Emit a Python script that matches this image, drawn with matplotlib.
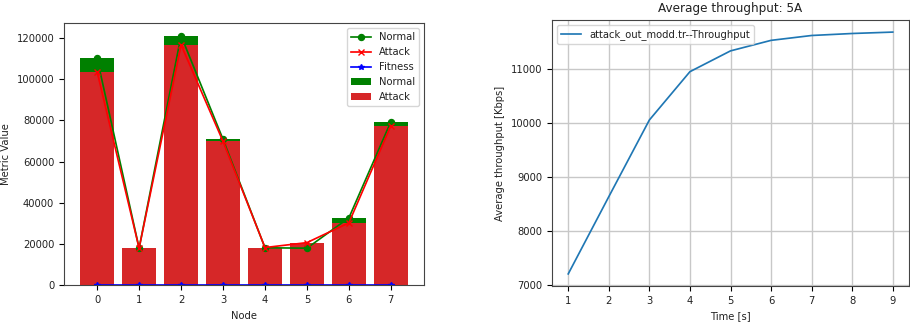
import matplotlib
matplotlib.use("Agg")
import matplotlib.pyplot as plt
import numpy as np

# left panel: per-node metric
nodes = [0, 1, 2, 3, 4, 5, 6, 7]
normal_vals = [110000, 18000, 121000, 70800, 18200, 18000, 32700, 79300]
attack_vals = [103500, 18000, 116600, 69800, 18300, 20700, 30300, 77400]
fitness_vals = [0, 0, 0, 0, 0, 0, 0, 0]

# right panel: average throughput
time_s = [1, 2, 3, 4, 5, 6, 7, 8, 9]
throughput = [7210, 8640, 10060, 10955, 11340, 11535, 11625, 11662, 11688]

s = 0.72
plt.rcParams['font.size'] = 10 * s
plt.rcParams['lines.linewidth'] = 1.7 * s
plt.rcParams['lines.markersize'] = 6 * s
plt.rcParams['axes.edgecolor'] = '#444444'
plt.rcParams['text.color'] = '#222222'
plt.rcParams['axes.labelcolor'] = '#222222'
plt.rcParams['xtick.labelcolor'] = '#222222'
plt.rcParams['ytick.labelcolor'] = '#222222'

fig = plt.figure(figsize=(9.10, 3.23), dpi=100)

ax1 = fig.add_axes([64/910, 1-285.3/323, 360/910, 262/323])
ax1.bar(nodes, normal_vals, color='g', label='Normal')
ax1.bar(nodes, attack_vals, color='tab:red', label='Attack')
ax1.plot(nodes, normal_vals, 'g-o', label='Normal')
ax1.plot(nodes, attack_vals, 'r-x', label='Attack')
ax1.plot(nodes, fitness_vals, 'b-*', label='Fitness')
ax1.set_xlabel('Node')
ax1.set_ylabel('Metric Value')
ax1.set_xticks(nodes)
ax1.legend(loc='upper right')

ax2 = fig.add_axes([552/910, 1-286/323, 357/910, 266/323])
ax2.plot(time_s, throughput, label='attack_out_modd.tr--Throughput')
ax2.set_title('Average throughput: 5A', fontsize=12 * s)
ax2.set_xlabel('Time [s]')
ax2.set_ylabel('Average throughput [Kbps]')
ax2.set_xticks(time_s)
ax2.set_yticks([7000, 8000, 9000, 10000, 11000])
ax2.grid(True, color='#c8c8c8', linewidth=1.0)
ax2.legend(loc='upper left')

fig.savefig('out.png', dpi=100)
